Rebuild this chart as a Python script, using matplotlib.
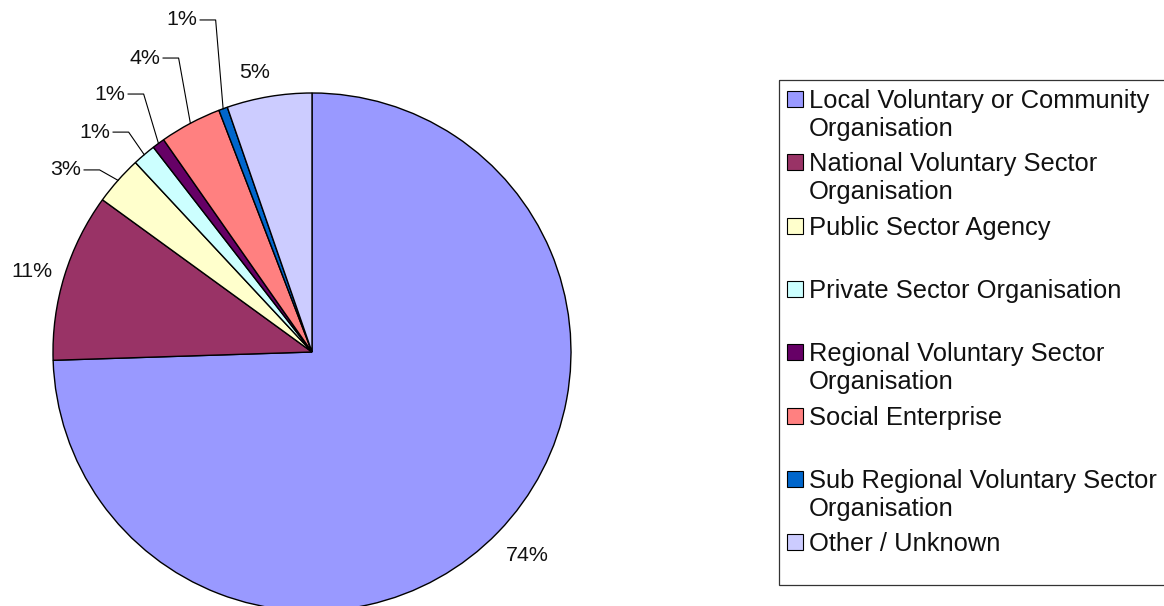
import numpy as np
import matplotlib
matplotlib.use("Agg")
import matplotlib.pyplot as plt
from matplotlib.patches import Rectangle

plt.rcParams["font.family"] = ["Liberation Sans", "DejaVu Sans"]

# Datos (porcentaje de organizaciones por tipo)
categorias = [
    "Local Voluntary or Community\nOrganisation",
    "National Voluntary Sector\nOrganisation",
    "Public Sector Agency",
    "Private Sector Organisation",
    "Regional Voluntary Sector\nOrganisation",
    "Social Enterprise",
    "Sub Regional Voluntary Sector\nOrganisation",
    "Other / Unknown",
]
valores = [74.49, 10.51, 3.06, 1.45, 0.78, 3.86, 0.55, 5.30]
colores = ["#9999FF", "#993366", "#FFFFCC", "#CCFFFF",
           "#660066", "#FF8080", "#0066CC", "#CCCCFF"]

# Posiciones de etiquetas (unidades del radio) y si llevan linea guia
pos_etiquetas = [(0.830, -0.784), (-1.081, 0.309), (-0.950, 0.703), (-0.838, 0.849),
                 (-0.780, 0.996), (-0.645, 1.135), (-0.502, 1.282), (-0.220, 1.081)]
con_guia = [False, False, True, True, True, True, True, False]

W, H = 1164, 606
fig = plt.figure(figsize=(W / 100, H / 100), dpi=100)

# Pie centrado en (312, 352) px con radio 259 px
cx, cy, r = 312, 352, 259
ax = fig.add_axes([(cx - r) / W, (H - cy - r) / H, 2 * r / W, 2 * r / H])
wedges, _ = ax.pie(valores, colors=colores, startangle=90, counterclock=False,
                   radius=1, wedgeprops=dict(edgecolor="black", linewidth=1.0))
ax.set_xlim(-1, 1)
ax.set_ylim(-1, 1)
ax.set_aspect("equal")
ax.axis("off")

for w, v, (lx, ly), guia in zip(wedges, valores, pos_etiquetas, con_guia):
    ax.text(lx, ly, f"{round(v):d}%", ha="center", va="center", fontsize=15.4,
            color="#111111", clip_on=False)
    if guia:
        ang = np.deg2rad((w.theta1 + w.theta2) / 2)
        ex, ey = np.cos(ang), np.sin(ang)
        ax.plot([lx + 0.07, lx + 0.13, ex], [ly, ly, ey], color="black",
                linewidth=0.8, clip_on=False)

# Leyenda dibujada en pixeles
lax = fig.add_axes([0, 0, 1, 1])
lax.set_xlim(0, W)
lax.set_ylim(H, 0)
lax.axis("off")
lax.add_patch(Rectangle((779, 80), 440, 505, facecolor="none", edgecolor="#333333",
                        linewidth=0.9, clip_on=True))
y0, paso, interlinea = 99, 63.3, 28
for i, (cat, col) in enumerate(zip(categorias, colores)):
    yc = y0 + i * paso
    lax.add_patch(Rectangle((787, yc - 8), 16, 16, facecolor=col, edgecolor="black",
                            linewidth=0.8))
    for k, linea in enumerate(cat.split("\n")):
        lax.text(809, yc + 9 + k * interlinea, linea, ha="left", va="baseline",
                 fontsize=18.4, color="#111111")

fig.savefig("out.png", dpi=100)
